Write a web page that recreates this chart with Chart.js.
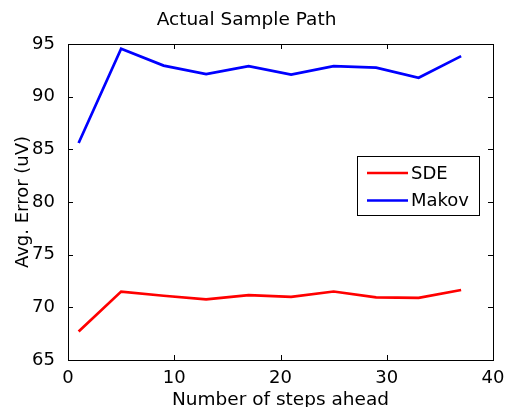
<!DOCTYPE html>
<html>
<head>
<meta charset="utf-8">
<script src="https://cdn.jsdelivr.net/npm/chart.js@4/dist/chart.umd.min.js"></script>
<style>
  html, body { margin: 0; padding: 0; background: #fff; }
  #wrap { width: 508px; height: 407px; }
</style>
</head>
<body>
<div id="wrap"><canvas id="chart"></canvas></div>
<script>
// data
const steps = [1, 5, 9, 13, 17, 21, 25, 29, 33, 37];
const sdeErr = [67.7, 71.5, 71.1, 70.75, 71.15, 71.0, 71.5, 70.95, 70.9, 71.65];
const makovErr = [85.6, 94.55, 92.95, 92.15, 92.9, 92.1, 92.9, 92.75, 91.8, 93.85];
const xTicks = [0, 10, 20, 30, 40];
const yTicks = [65, 70, 75, 80, 85, 90, 95];

const FONT = 'DejaVu Sans';

// box round the plot, inward ticks on every side, and the legend inside
const matlabAxes = {
  id: 'matlabAxes',
  afterDatasetsDraw(chart) {
    const { ctx, chartArea: a, scales: { x, y } } = chart;
    const t = 5;
    ctx.save();
    ctx.strokeStyle = '#000';
    ctx.lineWidth = 1;
    ctx.beginPath();
    xTicks.forEach(v => {
      const px = Math.round(x.getPixelForValue(v)) + 0.5;
      ctx.moveTo(px, a.bottom); ctx.lineTo(px, a.bottom - t);
      ctx.moveTo(px, a.top); ctx.lineTo(px, a.top + t);
    });
    yTicks.forEach(v => {
      const py = Math.round(y.getPixelForValue(v)) + 0.5;
      ctx.moveTo(a.left, py); ctx.lineTo(a.left + t, py);
      ctx.moveTo(a.right, py); ctx.lineTo(a.right - t, py);
    });
    ctx.stroke();
    ctx.strokeRect(Math.round(a.left) + 0.5, Math.round(a.top) + 0.5,
      Math.round(a.right - a.left), Math.round(a.bottom - a.top));

    // legend
    const lx = 357.5, ly = 156.5, lw = 122, lh = 59;
    ctx.fillStyle = '#fff';
    ctx.fillRect(lx, ly, lw, lh);
    ctx.strokeRect(lx, ly, lw, lh);
    ctx.font = '18px "' + FONT + '"';
    ctx.textBaseline = 'middle';
    chart.data.datasets.forEach((ds, i) => {
      const yy = 173 + i * 27.5;
      ctx.strokeStyle = ds.borderColor;
      ctx.lineWidth = 2.5;
      ctx.beginPath();
      ctx.moveTo(367, yy); ctx.lineTo(408, yy);
      ctx.stroke();
      ctx.fillStyle = '#000';
      ctx.fillText(ds.label, 411, yy + 1);
    });
    ctx.restore();
  }
};

new Chart(document.getElementById('chart'), {
  type: 'line',
  data: {
    datasets: [
      {
        label: 'SDE',
        data: steps.map((s, i) => ({ x: s, y: sdeErr[i] })),
        borderColor: '#ff0000',
        borderWidth: 2.7,
        pointRadius: 0,
        tension: 0
      },
      {
        label: 'Makov',
        data: steps.map((s, i) => ({ x: s, y: makovErr[i] })),
        borderColor: '#0000ff',
        borderWidth: 2.7,
        pointRadius: 0,
        tension: 0
      }
    ]
  },
  options: {
    responsive: true,
    maintainAspectRatio: false,
    animation: false,
    layout: { padding: { left: 0, right: 15, top: 0, bottom: 0 } },
    plugins: {
      legend: { display: false },
      tooltip: { enabled: false },
      title: {
        display: true,
        text: 'Actual Sample Path',
        color: '#000',
        font: { family: FONT, size: 18.5, weight: 'normal' },
        padding: { top: 9, bottom: 12.8 }
      }
    },
    scales: {
      x: {
        type: 'linear',
        min: 0,
        max: 40,
        afterBuildTicks: s => { s.ticks = xTicks.map(v => ({ value: v })); },
        afterFit: s => { s.height = 47; },
        grid: { display: false },
        border: { display: false },
        ticks: { color: '#000', padding: 0, maxRotation: 0, font: { family: FONT, size: 18 } },
        title: {
          display: true,
          text: 'Number of steps ahead',
          color: '#000',
          font: { family: FONT, size: 18.5 },
          padding: { top: -4, bottom: -4 }
        }
      },
      y: {
        min: 65,
        max: 95,
        afterBuildTicks: s => { s.ticks = yTicks.map(v => ({ value: v })); },
        afterFit: s => { s.width = 68; },
        grid: { display: false },
        border: { display: false },
        ticks: { color: '#000', padding: 5, font: { family: FONT, size: 18 } },
        title: {
          display: true,
          text: 'Avg. Error (uV)',
          color: '#000',
          font: { family: FONT, size: 18 },
          padding: { top: 13, bottom: 0 }
        }
      }
    }
  },
  plugins: [matlabAxes]
});
</script>
</body>
</html>
